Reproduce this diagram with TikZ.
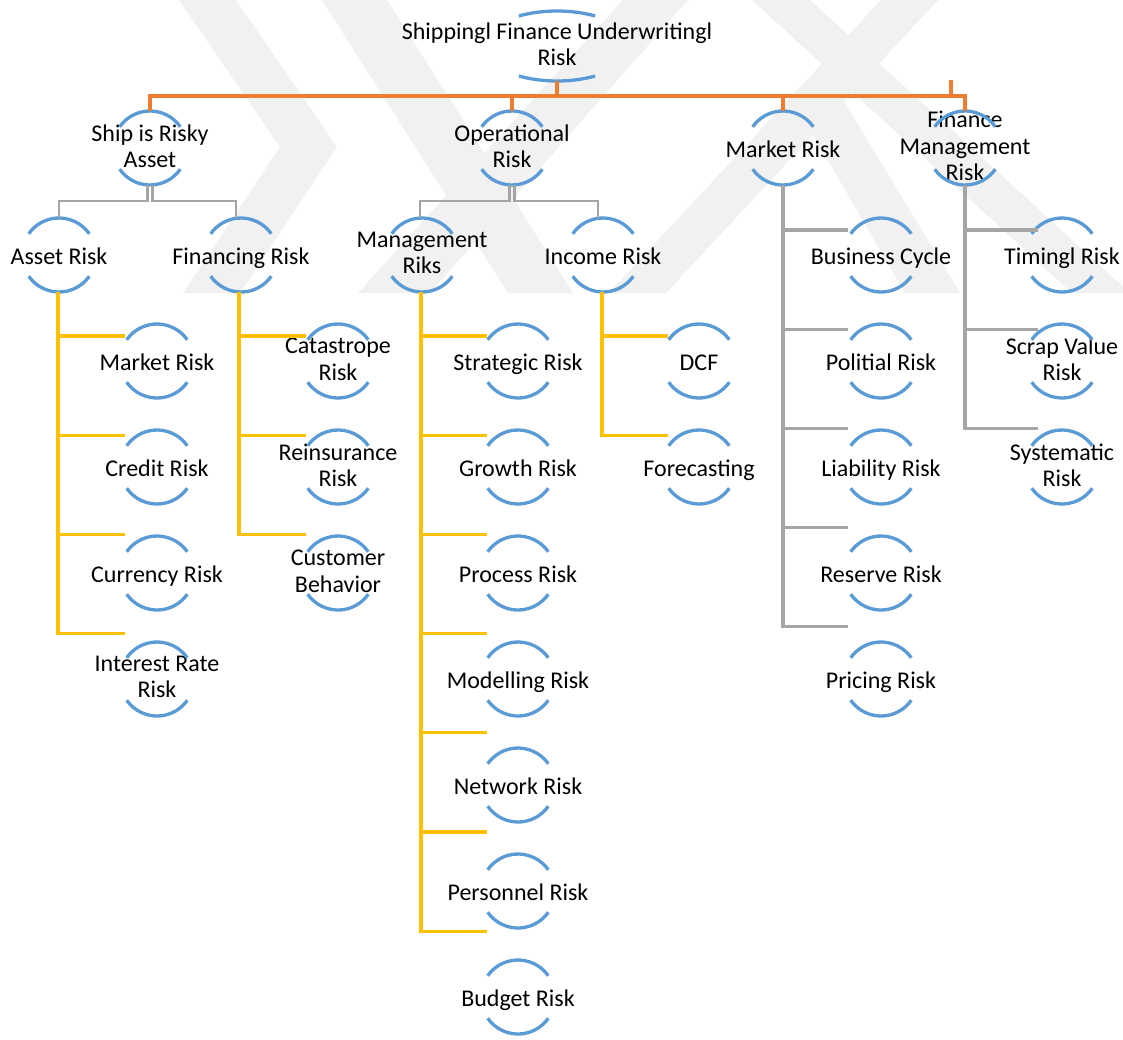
\documentclass[tikz,border=0pt]{standalone}
\usepackage{fontspec}
\setmainfont{Carlito}
\definecolor{arcblue}{HTML}{5B9BD5}
\definecolor{orng}{HTML}{ED7D31}
\definecolor{gryl}{HTML}{A5A5A5}
\definecolor{yel}{HTML}{FFC000}
\definecolor{wmgray}{HTML}{F1F1F1}
\newcommand{\topstrut}{\rule[-4pt]{0pt}{26.5pt}}
\begin{document}
\begin{tikzpicture}[x=1pt,y=-1pt,
  lbl/.style={align=center, inner sep=0pt, font=\fontsize{24}{26.5}\selectfont,
    execute at begin node=\topstrut, execute at end node=\topstrut},
  arcsty/.style={draw=arcblue, line width=3.3pt},
  orl/.style={draw=orng, line width=3.2pt},
  grl/.style={draw=gryl, line width=3.2pt},
  grt/.style={draw=gryl, line width=2.6pt},
  yll/.style={draw=yel, line width=3.2pt},
  wmk/.style={fill=wmgray, draw=none}]
\useasboundingbox (0,0) rectangle (1123,1039);
\fill[white] (0,0) rectangle (1123,1039);
% watermark (faint bands)
\fill[wmk] (179,0) -- (236,0) -- (337,147) -- (240,293) -- (183,293) -- (280,147) -- cycle;
\fill[wmk] (322,0) -- (387,0) -- (573,293) -- (508,293) -- cycle;
\fill[wmk] (623,0) -- (688,0) -- (430,293) -- (358,293) -- cycle;
\fill[wmk] (752,0) -- (810,0) -- (1130,293) -- (1072,293) -- cycle;
\fill[wmk] (881,0) -- (938,0) -- (666,293) -- (609,293) -- cycle;
\fill[wmk] (790,95) -- (840,95) -- (960,293) -- (905,293) -- cycle;

% nodes
\node[lbl] (root) at (557,46) {Shippingl Finance Underwritingl\\Risk};
\node[lbl] (ship) at (150,148) {Ship is Risky\\Asset};
\node[lbl] (oper) at (512,148) {Operational\\Risk};
\node[lbl] (mkt) at (783,148) {Market Risk};
\node[lbl] (fin) at (965,148) {Finance\\Management\\Risk};
\node[lbl] (asset) at (59,255) {Asset Risk};
\node[lbl] (finc) at (241,255) {Financing Risk};
\node[lbl] (mgmt) at (422,255) {Management\\Riks};
\node[lbl] (inc) at (603,255) {Income Risk};
\node[lbl] (bus) at (881,255) {Business Cycle};
\node[lbl] (tim) at (1062,255) {Timingl Risk};
\node[lbl] (a1) at (157,361) {Market Risk};
\node[lbl] (a2) at (157,467) {Credit Risk};
\node[lbl] (a3) at (157,573) {Currency Risk};
\node[lbl] (a4) at (157,679) {Interest Rate\\Risk};
\node[lbl] (f1) at (338,361) {Catastrope\\Risk};
\node[lbl] (f2) at (338,467) {Reinsurance\\Risk};
\node[lbl] (f3) at (338,573) {Customer\\Behavior};
\node[lbl] (m1) at (518,361) {Strategic Risk};
\node[lbl] (m2) at (518,467) {Growth Risk};
\node[lbl] (m3) at (518,573) {Process Risk};
\node[lbl] (m4) at (518,679) {Modelling Risk};
\node[lbl] (m5) at (518,785) {Network Risk};
\node[lbl] (m6) at (518,891) {Personnel Risk};
\node[lbl] (m7) at (518,997) {Budget Risk};
\node[lbl] (i1) at (699,361) {DCF};
\node[lbl] (i2) at (699,467) {Forecasting};
\node[lbl] (k2) at (881,361) {Politial Risk};
\node[lbl] (k3) at (881,467) {Liability Risk};
\node[lbl] (k4) at (881,573) {Reserve Risk};
\node[lbl] (k5) at (881,679) {Pricing Risk};
\node[lbl] (t2) at (1062,361) {Scrap Value\\Risk};
\node[lbl] (t3) at (1062,467) {Systematic\\Risk};

% arcs
\draw[arcsty, shift={(root.center)}] (59:74pt and 35pt) arc[start angle=59, end angle=121, x radius=74pt, y radius=35pt];
\draw[arcsty, shift={(root.center)}] (239:74pt and 35pt) arc[start angle=239, end angle=301, x radius=74pt, y radius=35pt];
\foreach \n in {ship,oper,mkt,fin,asset,finc,mgmt,inc,bus,tim,a1,a2,a3,a4,f1,f2,f3,m1,m2,m3,m4,m5,m6,m7,i1,i2,k2,k3,k4,k5,t2,t3}{
  \draw[arcsty, shift={(\n.center)}] (35:37pt) arc[start angle=35, end angle=145, radius=37pt];
  \draw[arcsty, shift={(\n.center)}] (215:37pt) arc[start angle=215, end angle=325, radius=37pt];
}

% level 0 -> 1 (orange)
\coordinate (bar) at (557,96);
\coordinate (stub) at (951,80);
\draw[orl] ([yshift=-35pt]root.center) -- (bar);
\foreach \n in {ship,oper,mkt,fin}
  \draw[orl] (bar) -| ([yshift=37pt]\n.center);
\draw[orl] (stub) -- (stub |- bar);

% level 1 -> 2 (gray)
\draw[grt] ([xshift=-2.4pt,yshift=-37pt]ship.center) -- ++(0,16) -| ([yshift=37pt]asset.center);
\draw[grt] ([xshift=2.4pt,yshift=-37pt]ship.center) -- ++(0,16) -| ([xshift=-5pt,yshift=37pt]finc.center);
\draw[grt] ([xshift=-2.4pt,yshift=-37pt]oper.center) -- ++(0,16) -| ([xshift=-2pt,yshift=37pt]mgmt.center);
\draw[grt] ([xshift=2.4pt,yshift=-37pt]oper.center) -- ++(0,16) -| ([xshift=-5pt,yshift=37pt]inc.center);

% vertical lists
\foreach \c [count=\i from 0] in {a1,a2,a3,a4}{
  \pgfmathsetmacro\dy{25+6.8*\i}
  \draw[yll] ([xshift=-1pt,yshift=-37pt]asset.center) |- ([xshift=-32pt,yshift=\dy pt]\c.center);
}
\foreach \c [count=\i from 0] in {f1,f2,f3}{
  \pgfmathsetmacro\dy{25+6.8*\i}
  \draw[yll] ([xshift=-2pt,yshift=-37pt]finc.center) |- ([xshift=-32pt,yshift=\dy pt]\c.center);
}
\foreach \c [count=\i from 0] in {m1,m2,m3,m4,m5,m6,m7}{
  \pgfmathsetmacro\dy{25+6.8*\i}
  \draw[yll] ([xshift=-1pt,yshift=-37pt]mgmt.center) |- ([xshift=-31pt,yshift=\dy pt]\c.center);
}
\foreach \c [count=\i from 0] in {i1,i2}{
  \pgfmathsetmacro\dy{25+6.8*\i}
  \draw[yll] ([xshift=-1pt,yshift=-37pt]inc.center) |- ([xshift=-31pt,yshift=\dy pt]\c.center);
}
\foreach \c [count=\i from 0] in {bus,k2,k3,k4,k5}{
  \pgfmathsetmacro\dy{25+6.8*\i}
  \draw[grl] ([yshift=-37pt]mkt.center) |- ([xshift=-33pt,yshift=\dy pt]\c.center);
}
\foreach \c [count=\i from 0] in {tim,t2,t3}{
  \pgfmathsetmacro\dy{25+6.8*\i}
  \draw[grl] ([yshift=-37pt]fin.center) |- ([xshift=-24pt,yshift=\dy pt]\c.center);
}
\end{tikzpicture}
\end{document}
